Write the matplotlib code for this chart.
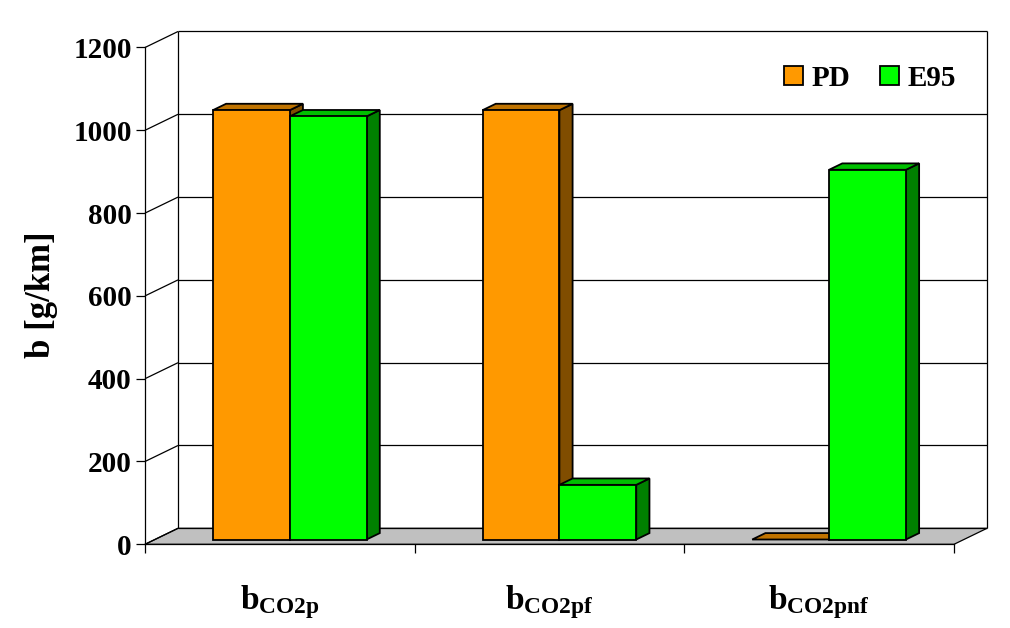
import matplotlib as mpl
mpl.use("Agg")
mpl.rcParams.update({
    "font.family": ["Liberation Serif", "DejaVu Serif"],
    "font.weight": "bold",
    "mathtext.fontset": "custom",
    "mathtext.rm": "Liberation Serif:bold",
    "mathtext.bf": "Liberation Serif:bold",
    "mathtext.it": "Liberation Serif:bold:italic",
})
import matplotlib.pyplot as plt
from matplotlib.patches import Polygon, Patch

# values
categories = [r"$\mathbf{b}_{\mathbf{CO2p}}$", r"$\mathbf{b}_{\mathbf{CO2pf}}$",
              r"$\mathbf{b}_{\mathbf{CO2pnf}}$"]
series = ["PD", "E95"]
pd_vals = [1037, 1037, 0]
e95_vals = [1022, 132, 893]
yticks = [0, 200, 400, 600, 800, 1000, 1200]

# front / top / side colours of the fake-3D bars
COLORS = {"PD": ("#FF9900", "#BF7300", "#804D00"),
          "E95": ("#00FF00", "#00BF00", "#008000")}
DX, DY = 33, 16          # depth of the box in pixels
D0, D1 = 0.3, 0.7        # bar front/back as fraction of depth
BW = 0.285               # bar width in category units

fig = plt.figure(figsize=(10.1, 6.28), dpi=100)
ax = fig.add_axes([145 / 1010, 1 - 544.3 / 628, 809 / 1010, 496.8 / 628])
ax.set_xlim(0, len(categories))
ax.set_ylim(0, 1200)
ax.patch.set_visible(False)


def P(x, v, d):
    """data point pushed back by depth d (0 front, 1 back wall)."""
    px, py = ax.transData.transform((x, v))
    return ax.transData.inverted().transform((px + DX * d, py + DY * d))


def line(a, b, **kw):
    ax.plot([a[0], b[0]], [a[1], b[1]], color="black", lw=0.9,
            clip_on=False, solid_capstyle="butt", **kw)


def poly(pts, fc, z, lw=1.3):
    ax.add_patch(Polygon(pts, closed=True, fc=fc, ec="black", lw=lw,
                         joinstyle="miter", clip_on=False, zorder=z))


n = len(categories)
ymax = yticks[-1]
# floor
poly([P(0, 0, 0), P(n, 0, 0), P(n, 0, 1), P(0, 0, 1)], "#C0C0C0", 1, lw=0.9)
# back wall frame + gridlines, left wall diagonals
line(P(0, 0, 1), P(0, ymax, 1))
line(P(n, 0, 1), P(n, ymax, 1))
for v in yticks:
    line(P(0, v, 1), P(n, v, 1))
    line(P(0, v, 0), P(0, v, 1))

# bars
for i in range(n):
    c = i + 0.5
    for name, vals, x0 in [("PD", pd_vals, c - BW), ("E95", e95_vals, c)]:
        v = vals[i]
        x1 = x0 + BW
        front, top, side = COLORS[name]
        z = 3 + i
        poly([P(x1, 0, D0), P(x1, 0, D1), P(x1, v, D1), P(x1, v, D0)], side, z)
        poly([P(x0, v, D0), P(x1, v, D0), P(x1, v, D1), P(x0, v, D1)], top, z)
        if v > 0:
            poly([P(x0, 0, D0), P(x1, 0, D0), P(x1, v, D0), P(x0, v, D0)], front, z)

# axes: front left and bottom spines
for s in ["top", "right"]:
    ax.spines[s].set_visible(False)
for s in ["left", "bottom"]:
    ax.spines[s].set_linewidth(0.9)
ax.set_yticks(yticks)
ax.set_yticklabels([str(v) for v in yticks], fontsize=21, fontweight="bold")
ax.tick_params(axis="y", direction="out", length=6.5, width=0.9, pad=3)
ax.set_xticks(range(n + 1))
ax.set_xticklabels([])
ax.tick_params(axis="x", which="major", direction="out", length=6.5, width=0.9)
ax.set_xticks([i + 0.5 for i in range(n)], minor=True)
ax.set_xticklabels(categories, minor=True, fontsize=24)
ax.tick_params(axis="x", which="minor", length=0, pad=28)

fig.text(42 / 1010, 1 - 295 / 628, "b [g/km]", rotation=90, fontsize=25,
         fontweight="bold", ha="center", va="center")

handles = [Patch(fc=COLORS[s][0], ec="black", lw=1.3) for s in series]
fig.legend(handles, series, loc="center", bbox_to_anchor=(870 / 1010, 1 - 78 / 628),
           ncol=2, frameon=False, fontsize=21, handlelength=0.65, handleheight=0.65,
           handletextpad=0.31, columnspacing=1.0, borderpad=0)

fig.savefig("out.png", dpi=100)
